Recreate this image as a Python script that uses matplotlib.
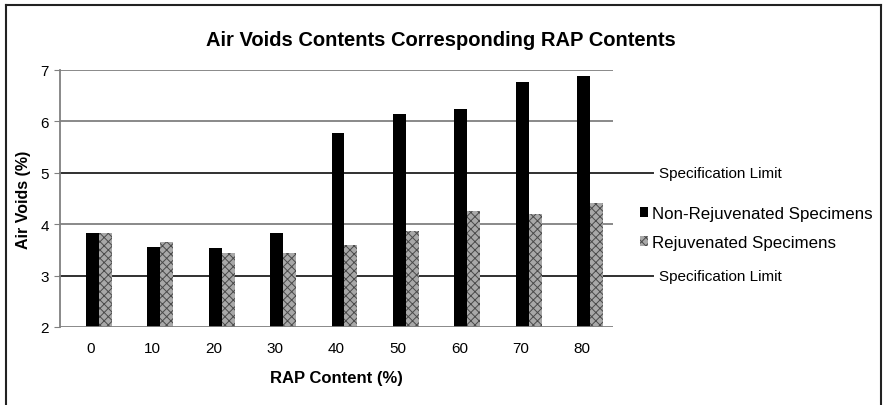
import matplotlib
matplotlib.use("Agg")
import matplotlib.pyplot as plt
from matplotlib.lines import Line2D
import numpy as np

rap_content = ["0", "10", "20", "30", "40", "50", "60", "70", "80"]
non_rejuvenated = [3.83, 3.56, 3.53, 3.83, 5.78, 6.15, 6.25, 6.77, 6.88]
rejuvenated = [3.83, 3.66, 3.43, 3.43, 3.60, 3.86, 4.25, 4.20, 4.42]
spec_limits = [5, 3]

plt.rcParams['font.family'] = ['Liberation Sans', 'DejaVu Sans']
plt.rcParams['hatch.linewidth'] = 0.7

fig = plt.figure(figsize=(8.84, 4.06), dpi=100)
ax = fig.add_axes([60/884, 1-328/406, 553/884, 257/406])

x = np.arange(len(rap_content))
w = 0.21
off = 0.025
ax.bar(x + off, non_rejuvenated, width=w, color='black', zorder=3,
       label='Non-Rejuvenated Specimens')
ax.bar(x + off + w, rejuvenated, width=w, color='#a8a8a8', edgecolor='#4a4a4a',
       hatch='xxxx', linewidth=0, zorder=3, label='Rejuvenated Specimens')

ax.set_yticks([2, 3, 4, 5, 6, 7])
ax.set_xticks(x)
ax.set_xticklabels(rap_content)
for yv in [4, 6, 7]:
    ax.axhline(yv, color='#808080', lw=1.3, zorder=1)
ax.axhline(2, color='#808080', lw=1.3, zorder=4)

for s in ax.spines.values():
    s.set_visible(False)
ax.spines['left'].set_visible(True)
ax.spines['left'].set_color('#808080')
ax.spines['left'].set_linewidth(1.3)
ax.tick_params(axis='y', length=4, color='#808080', labelsize=11, pad=4)
ax.tick_params(axis='x', length=0, labelsize=11, pad=10)

# specification limit lines extend beyond plot area
for sv in spec_limits:
    ax.plot([-0.5, 9.15], [sv, sv], color='#303030', lw=1.4, clip_on=False, zorder=2)
    ax.text(9.25, sv, 'Specification Limit', fontsize=11, va='center', ha='left',
            clip_on=False)

ax.set_ylim(2, 7)
ax.set_xlim(-0.5, 8.5)

fig.text(0.499, 1-41/406, 'Air Voids Contents Corresponding RAP Contents', fontsize=14.5,
         fontweight='bold', ha='center', va='center')
ax.set_ylabel('Air Voids (%)', fontsize=11.5, fontweight='bold', labelpad=7)
ax.set_xlabel('RAP Content (%)', fontsize=12, fontweight='bold', labelpad=11)

leg = ax.legend(loc='center left', bbox_to_anchor=(1.022, 0.385), frameon=False,
                fontsize=12.2, handlelength=0.45, handleheight=0.55, handletextpad=0.25,
                labelspacing=0.8)

# figure frame
fig.add_artist(Line2D([5.5/884, 5.5/884], [0, 1-5.5/406], color='#222', lw=1.5))
fig.add_artist(Line2D([5.5/884, 881/884], [1-5.5/406, 1-5.5/406], color='#222', lw=1.5))
fig.add_artist(Line2D([881/884, 881/884], [0, 1-5.5/406], color='#222', lw=1.5))

fig.savefig('out.png', dpi=100)
